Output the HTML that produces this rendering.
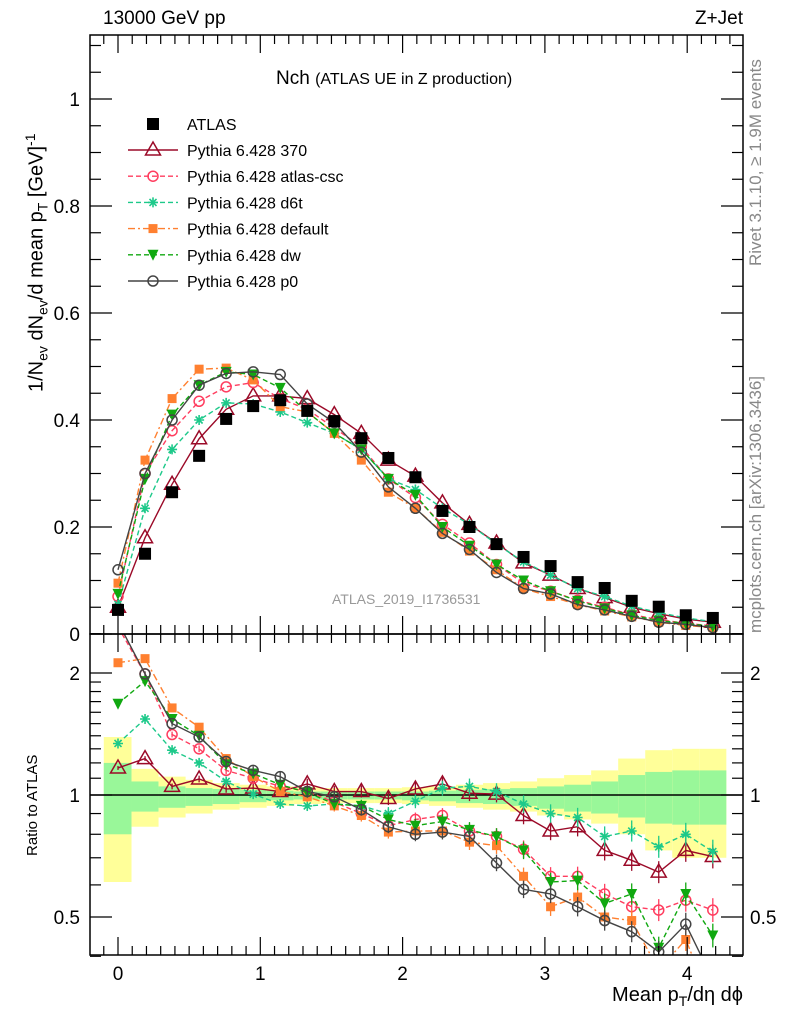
<!DOCTYPE html>
<html><head><meta charset="utf-8"><style>
body{margin:0;background:#fff}
svg{display:block;font-family:"Liberation Sans",sans-serif}
</style></head><body>
<svg id="c" width="786" height="1024" viewBox="0 0 786 1024" xmlns="http://www.w3.org/2000/svg"></svg>
<script>
const xs=[0,0.19,0.38,0.57,0.76,0.95,1.14,1.33,1.52,1.71,1.9,2.09,2.28,2.47,2.66,2.85,3.04,3.23,3.42,3.61,3.8,3.99,4.18];
const atlas=[0.045,0.150,0.265,0.333,0.402,0.426,0.437,0.417,0.398,0.366,0.329,0.293,0.230,0.200,0.168,0.144,0.127,0.097,0.086,0.062,0.051,0.035,0.030];
const m370=[0.05,0.18,0.28,0.365,0.42,0.445,0.445,0.44,0.41,0.375,0.325,0.295,0.245,0.205,0.17,0.133,0.11,0.085,0.068,0.05,0.038,0.028,0.022];
const mcsc=[0.07,0.30,0.38,0.435,0.462,0.47,0.44,0.42,0.385,0.35,0.29,0.255,0.205,0.17,0.13,0.095,0.08,0.063,0.05,0.036,0.027,0.02,0.015];
const md6t=[0.055,0.235,0.345,0.40,0.432,0.43,0.415,0.395,0.375,0.345,0.29,0.27,0.235,0.205,0.168,0.135,0.11,0.085,0.07,0.052,0.04,0.03,0.023];
const mdef=[0.095,0.325,0.44,0.495,0.497,0.475,0.425,0.415,0.375,0.325,0.265,0.235,0.19,0.155,0.12,0.085,0.07,0.055,0.043,0.032,0.022,0.016,0.012];
const mdw=[0.075,0.29,0.41,0.465,0.49,0.485,0.46,0.415,0.375,0.345,0.29,0.26,0.2,0.165,0.13,0.1,0.08,0.062,0.048,0.035,0.025,0.02,0.014];
const mp0=[0.12,0.30,0.40,0.465,0.487,0.49,0.485,0.43,0.395,0.34,0.275,0.235,0.188,0.158,0.115,0.085,0.075,0.055,0.045,0.033,0.022,0.018,0.012];
const r370=[1.166,1.23,1.05,1.095,1.035,1.04,1.02,1.065,1.02,1.02,0.98,1.035,1.065,1.01,1.005,0.89,0.815,0.835,0.73,0.69,0.645,0.73,0.705];
const rcsc=[2.6,1.99,1.41,1.30,1.15,1.10,1.05,1.02,0.96,0.90,0.84,0.87,0.89,0.815,0.79,0.735,0.63,0.63,0.57,0.53,0.52,0.55,0.52];
const rd6t=[1.34,1.54,1.29,1.20,1.08,1.005,0.95,0.94,0.95,0.94,0.90,0.965,1.04,1.05,1.02,0.95,0.90,0.88,0.79,0.815,0.745,0.80,0.725];
const rdef=[2.12,2.17,1.64,1.47,1.23,1.11,1.02,0.99,0.94,0.89,0.81,0.815,0.815,0.765,0.75,0.63,0.53,0.56,0.50,0.49,0.37,0.44,0.3];
const rdw=[1.68,1.91,1.54,1.40,1.19,1.13,1.06,1.015,0.95,0.94,0.87,0.84,0.86,0.82,0.79,0.73,0.61,0.615,0.54,0.57,0.42,0.57,0.45];
const rp0=[2.67,1.99,1.50,1.39,1.21,1.15,1.11,1.02,0.99,0.92,0.835,0.80,0.81,0.79,0.68,0.585,0.57,0.53,0.49,0.46,0.41,0.48,0.35];
const yUp=[1.39,1.16,1.11,1.09,1.07,1.06,1.05,1.045,1.04,1.04,1.04,1.045,1.05,1.06,1.07,1.08,1.10,1.12,1.15,1.23,1.29,1.30,1.30];
const yDn=[0.61,0.835,0.88,0.90,0.92,0.93,0.94,0.95,0.955,0.955,0.955,0.95,0.94,0.93,0.92,0.91,0.89,0.87,0.85,0.80,0.73,0.70,0.70];
const gUp=[1.2,1.08,1.05,1.04,1.035,1.03,1.025,1.02,1.02,1.02,1.02,1.02,1.025,1.03,1.035,1.04,1.05,1.06,1.08,1.12,1.14,1.15,1.15];
const gDn=[0.80,0.91,0.93,0.94,0.95,0.96,0.97,0.975,0.975,0.975,0.975,0.97,0.965,0.955,0.95,0.94,0.925,0.91,0.90,0.88,0.85,0.845,0.845];
const mainTicks=["0","0.2","0.4","0.6","0.8","1"];
const xTickLabels=["0","1","2","3","4"];

const S=document.getElementById('c');const NS='http://www.w3.org/2000/svg';
function el(t,a,p){const e=document.createElementNS(NS,t);for(const k in a)e.setAttribute(k,a[k]);(p||S).appendChild(e);return e;}
const L=90,R=743,T=35,MB=634,RB=955;
const X=v=>118+v*142.3;
const Y=v=>634-v*535;
const RY=v=>795-Math.log2(v)*122;
const defs=el('defs',{});
const cp1=el('clipPath',{id:'cm'},defs);el('rect',{x:L,y:T,width:R-L,height:MB-T},cp1);
const cp2=el('clipPath',{id:'cr'},defs);el('rect',{x:L,y:MB,width:R-L,height:RB-MB},cp2);
const gm=el('g',{'clip-path':'url(#cm)'});
const gr=el('g',{'clip-path':'url(#cr)'});
const edges=xs.map((x,i)=>i==0?-0.1:(xs[i-1]+x)/2);edges.push(4.275);
for(let i=0;i<xs.length;i++){
 const a=X(edges[i]),b=X(edges[i+1]);
 let r=el('rect',{x:a,y:RY(yUp[i]),width:b-a,height:RY(yDn[i])-RY(yUp[i]),fill:'#ffff99'},gr);
 
 r=el('rect',{x:a,y:RY(gUp[i]),width:b-a,height:RY(gDn[i])-RY(gUp[i]),fill:'#99f799'},gr);
 
}
el('line',{x1:L,x2:R,y1:RY(1),y2:RY(1),stroke:'#000','stroke-width':1.5},gr);
function marker(g,type,x,y,c){
 let e;
 if(type=='sq') e=el('rect',{x:x-6,y:y-6,width:12,height:12,fill:'#000'},g);
 else if(type=='tri') e=el('polygon',{points:`${x},${y-8} ${x-7.5},${y+5} ${x+7.5},${y+5}`,fill:'none',stroke:c,'stroke-width':1.5},g);
 else if(type=='circ') e=el('circle',{cx:x,cy:y,r:5,fill:'none',stroke:c,'stroke-width':1.5},g);
 else if(type=='star') e=el('path',{d:`M${x-5},${y}H${x+5}M${x},${y-5}V${y+5}M${x-3.5},${y-3.5}L${x+3.5},${y+3.5}M${x-3.5},${y+3.5}L${x+3.5},${y-3.5}`,stroke:c,'stroke-width':1.6},g);
 else if(type=='fsq') e=el('rect',{x:x-4.5,y:y-4.5,width:9,height:9,fill:c},g);
 else if(type=='dtri') e=el('polygon',{points:`${x-5.5},${y-5} ${x+5.5},${y-5} ${x},${y+6}`,fill:c},g);
 return e;
}
const series=[
 {n:'pythia-370',lab:'Pythia 6.428 370',m:m370,r:r370,c:'#9b0a28',t:'tri',d:''},
 {n:'pythia-atlas-csc',lab:'Pythia 6.428 atlas-csc',m:mcsc,r:rcsc,c:'#ff3d5f',t:'circ',d:'5,3'},
 {n:'pythia-d6t',lab:'Pythia 6.428 d6t',m:md6t,r:rd6t,c:'#1dc98a',t:'star',d:'5,3'},
 {n:'pythia-default',lab:'Pythia 6.428 default',m:mdef,r:rdef,c:'#ff8030',t:'fsq',d:'7,3,2,3'},
 {n:'pythia-dw',lab:'Pythia 6.428 dw',m:mdw,r:rdw,c:'#10a810',t:'dtri',d:'5,3'},
 {n:'pythia-p0',lab:'Pythia 6.428 p0',m:mp0,r:rp0,c:'#444444',t:'circ',d:''}];
series.forEach(s=>{
 let p=el('polyline',{points:xs.map((x,i)=>X(x)+','+Y(s.m[i])).join(' '),fill:'none',stroke:s.c,'stroke-width':1.4,'stroke-dasharray':s.d},gm);
 
 xs.forEach((x,i)=>{const e=marker(gm,s.t,X(x),Y(s.m[i]),s.c);});
 p=el('polyline',{points:xs.map((x,i)=>X(x)+','+RY(s.r[i])).join(' '),fill:'none',stroke:s.c,'stroke-width':1.4,'stroke-dasharray':s.d},gr);
 
 xs.forEach((x,i)=>{const e=marker(gr,s.t,X(x),RY(s.r[i]),s.c);
  const er=2+i*0.45;el('line',{x1:X(x),x2:X(x),y1:RY(s.r[i])-er,y2:RY(s.r[i])+er,stroke:s.c,'stroke-width':1.3},gr);});
});
xs.forEach((x,i)=>{const e=marker(gm,'sq',X(x),Y(atlas[i]));});
el('rect',{x:L,y:T,width:R-L,height:MB-T,fill:'none',stroke:'#000','stroke-width':1.5});
el('rect',{x:L,y:MB,width:R-L,height:RB-MB,fill:'none',stroke:'#000','stroke-width':1.5});
for(let k=-1;k<=43;k++){const v=k/10;const x=X(v);if(x<L||x>R)continue;const maj=k%10==0;const h=maj?18:9;
 [[MB,-1],[MB,1],[RB,-1]].forEach(([y,dir])=>el('line',{x1:x,x2:x,y1:y,y2:y+dir*h,stroke:'#000','stroke-width':1.2}));
 el('line',{x1:x,x2:x,y1:T,y2:T+h,stroke:'#000','stroke-width':1.2});}
xTickLabels.forEach((l,i)=>{const t=el('text',{x:X(i),y:980,'font-size':19,'text-anchor':'middle'});t.textContent=l;});
for(let k=0;k<=22;k++){const v=k*0.05;const y=Y(v);if(y<T)continue;const maj=k%4==0;const h=maj?22:11;
 el('line',{x1:L,x2:L+h,y1:y,y2:y,stroke:'#000','stroke-width':1.2});el('line',{x1:R,x2:R-h,y1:y,y2:y,stroke:'#000','stroke-width':1.2});}
mainTicks.forEach((l,i)=>{const t=el('text',{x:80,y:Y(i*0.2)+7,'font-size':19,'text-anchor':'end'});t.textContent=l;});
[0.4,0.5,0.6,0.7,0.8,0.9,1,1.1,1.2,1.3,1.4,1.5,1.6,1.7,1.8,1.9,2,2.5].forEach(v=>{const y=RY(v);const maj=(v==0.5||v==1||v==2);const h=maj?22:11;
 el('line',{x1:L,x2:L+h,y1:y,y2:y,stroke:'#000','stroke-width':1.2});el('line',{x1:R,x2:R-h,y1:y,y2:y,stroke:'#000','stroke-width':1.2});});
[['0.5',0.5],['1',1],['2',2]].forEach(([l,v])=>{let t=el('text',{x:80,y:RY(v)+7,'font-size':19,'text-anchor':'end'});t.textContent=l;
 t=el('text',{x:750,y:RY(v)+7,'font-size':19});t.textContent=l;});
const lg=el('g',{});
let e=marker(lg,'sq',153,124);let t=el('text',{x:187,y:130,'font-size':16},lg);t.textContent='ATLAS';
series.forEach((s,i)=>{const y=150+i*26.2;el('line',{x1:128,x2:178,y1:y,y2:y,stroke:s.c,'stroke-width':1.4,'stroke-dasharray':s.d},lg);marker(lg,s.t,153,y,s.c);
 const tt=el('text',{x:187,y:y+6,'font-size':16},lg);tt.textContent=s.lab;});
</script>
<div style="position:absolute;left:0;top:0;width:786px;height:1024px;pointer-events:none;font-family:'Liberation Sans',sans-serif">
<div style="position:absolute;left:103px;top:8px;font-size:19px">13000 GeV pp</div>
<div style="position:absolute;right:43px;top:8px;font-size:19px">Z+Jet</div>
<div style="position:absolute;left:276px;top:68px;font-size:19px">Nch <span style="font-size:16px">(ATLAS UE in Z production)</span></div>
<div style="position:absolute;left:332px;top:591px;font-size:14px;color:#999">ATLAS_2019_I1736531</div>
<div style="position:absolute;left:746px;top:266px;font-size:17px;color:#888;transform-origin:0 0;transform:rotate(-90deg);white-space:nowrap">Rivet 3.1.10, ≥ 1.9M events</div>
<div style="position:absolute;left:746px;top:633px;font-size:17px;color:#888;transform-origin:0 0;transform:rotate(-90deg);white-space:nowrap">mcplots.cern.ch [arXiv:1306.3436]</div>
<div style="position:absolute;left:22px;top:392px;font-size:20px;transform-origin:0 0;transform:rotate(-90deg);white-space:nowrap">1/N<sub style="font-size:14px">ev</sub> dN<sub style="font-size:14px">ev</sub>/d mean p<sub style="font-size:14px">T</sub> [GeV]<sup style="font-size:14px">-1</sup></div>
<div style="position:absolute;left:24px;top:856px;font-size:15px;transform-origin:0 0;transform:rotate(-90deg);white-space:nowrap">Ratio to ATLAS</div>
<div style="position:absolute;right:43px;top:984px;font-size:20px;white-space:nowrap">Mean p<sub style="font-size:14px">T</sub>/dη dϕ</div>
</div>
</body></html>
